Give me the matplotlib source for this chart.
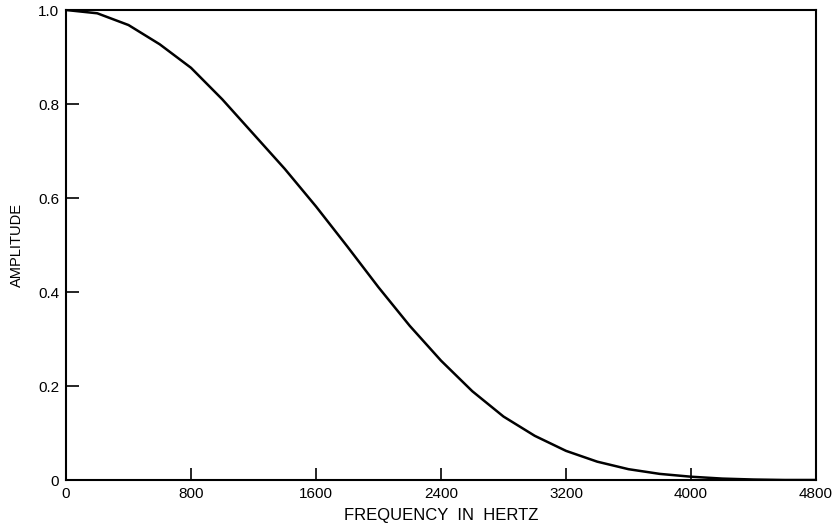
import matplotlib
matplotlib.use("Agg")
import matplotlib.pyplot as plt

freq_hz = [0, 200, 400, 600, 800, 1000, 1200, 1400, 1600, 1800, 2000, 2200,
           2400, 2600, 2800, 3000, 3200, 3400, 3600, 3800, 4000, 4200, 4400, 4600, 4800]
amplitude = [1.0, 0.993, 0.968, 0.927, 0.877, 0.810, 0.736, 0.662, 0.582, 0.497, 0.410, 0.328,
             0.254, 0.189, 0.135, 0.094, 0.062, 0.039, 0.023, 0.013, 0.007, 0.003, 0.001, 0.0, 0.0]

x_ticks = [0, 800, 1600, 2400, 3200, 4000, 4800]
x_labels = ["0", "800", "1600", "2400", "3200", "4000", "4800"]
y_ticks = [0, 0.2, 0.4, 0.6, 0.8, 1.0]
y_labels = ["0", "0.2", "0.4", "0.6", "0.8", "1.0"]

plt.rcParams['font.family'] = ['Liberation Sans', 'DejaVu Sans']

fig = plt.figure(figsize=(8.34, 5.31), dpi=100)
ax = fig.add_axes([66/834, 1 - 480/531, 750/834, 470/531])

ax.plot(freq_hz, amplitude, color='black', linewidth=1.8,
        solid_capstyle='round', solid_joinstyle='round')

ax.set_xlim(0, 4800)
ax.set_ylim(0, 1.0)
ax.set_xticks(x_ticks)
ax.set_xticklabels(x_labels)
ax.set_yticks(y_ticks)
ax.set_yticklabels(y_labels)

ax.tick_params(axis='both', direction='in', length=9, width=1.2, labelsize=11, colors='black')
ax.tick_params(axis='x', pad=5)
ax.tick_params(axis='y', pad=5)

for s in ax.spines.values():
    s.set_linewidth(1.5)
    s.set_color('black')

ax.set_xlabel("FREQUENCY  IN  HERTZ", fontsize=12, labelpad=5)
ax.set_ylabel("AMPLITUDE", fontsize=10.5, labelpad=10)

fig.savefig("out.png", dpi=100, facecolor='white')
